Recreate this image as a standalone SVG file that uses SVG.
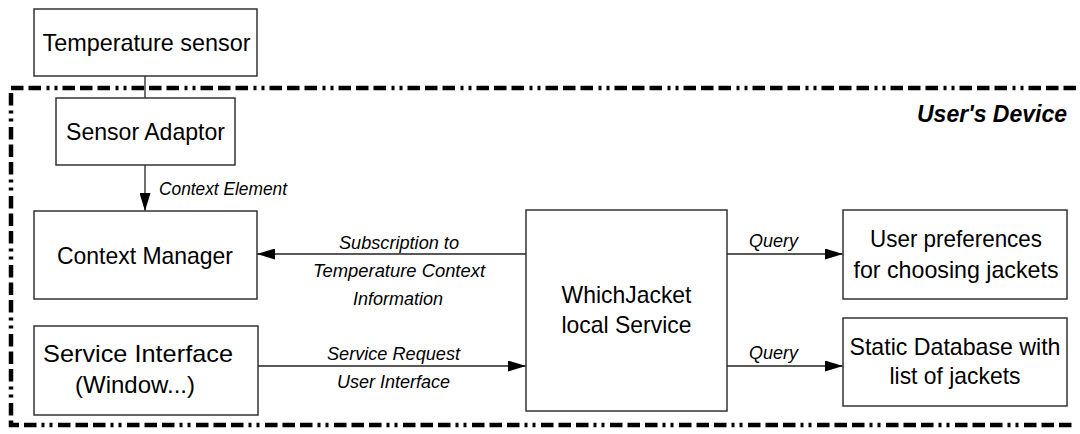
<svg xmlns="http://www.w3.org/2000/svg" width="1080" height="434" viewBox="0 0 1080 434">
  <defs>
    <marker id="arrow" markerUnits="userSpaceOnUse" markerWidth="18" markerHeight="11" refX="18" refY="5.5" orient="auto">
      <path d="M0,0 L18,5.5 L0,11 Z" fill="#000"/>
    </marker>
    <style>
      .box { fill: #fff; stroke: #333; stroke-width: 1.5; }
      .node { font-family: "Liberation Sans", Arial, Helvetica, sans-serif; font-size: 24px; fill: #000; text-anchor: middle; }
      .lbl { font-family: "Liberation Sans", Arial, Helvetica, sans-serif; font-size: 18px; font-style: italic; fill: #000; }
      .mid { text-anchor: middle; }
      .link { fill: none; stroke: #222; stroke-width: 1.3; }
      .boundary { fill: none; stroke: #000; stroke-width: 4.5; stroke-dasharray: 12.5 5 12.5 5 12.5 5 3 5 3 5.5; }
    </style>
  </defs>

  <rect width="1080" height="434" fill="#fff"/>

  <!-- device boundary (open on the right) -->
  <g id="users-device">
    <path class="boundary" d="M1076,88 H11 V425 H1076"/>
    <text x="1067" y="122" font-family="Liberation Sans, Arial, sans-serif" font-size="24" font-weight="bold" font-style="italic" text-anchor="end" textLength="150" lengthAdjust="spacingAndGlyphs">User's Device</text>
  </g>

  <!-- connectors -->
  <g id="connectors">
    <line class="link" x1="145" y1="76" x2="145" y2="98"/>
    <line class="link" x1="145" y1="165" x2="145" y2="211" marker-end="url(#arrow)"/>
    <line class="link" x1="526" y1="254" x2="257" y2="254" marker-end="url(#arrow)"/>
    <line class="link" x1="257" y1="366" x2="526" y2="366" marker-end="url(#arrow)"/>
    <line class="link" x1="727" y1="254" x2="843" y2="254" marker-end="url(#arrow)"/>
    <line class="link" x1="727" y1="366" x2="843" y2="366" marker-end="url(#arrow)"/>

    <text class="lbl" x="159" y="195" textLength="128" lengthAdjust="spacingAndGlyphs">Context Element</text>
    <text class="lbl mid" x="399" y="249" textLength="120" lengthAdjust="spacingAndGlyphs">Subscription to</text>
    <text class="lbl mid" x="399" y="277" textLength="172" lengthAdjust="spacingAndGlyphs">Temperature Context</text>
    <text class="lbl mid" x="398" y="305" textLength="90" lengthAdjust="spacingAndGlyphs">Information</text>
    <text class="lbl mid" x="393.5" y="360" textLength="133" lengthAdjust="spacingAndGlyphs">Service Request</text>
    <text class="lbl mid" x="393.5" y="388" textLength="113" lengthAdjust="spacingAndGlyphs">User Interface</text>
    <text class="lbl mid" x="773.5" y="247" textLength="49" lengthAdjust="spacingAndGlyphs">Query</text>
    <text class="lbl mid" x="773.5" y="359" textLength="49" lengthAdjust="spacingAndGlyphs">Query</text>
  </g>

  <g id="temperature-sensor">
    <rect class="box" x="34" y="9" width="223" height="67"/>
    <text class="node" x="146.5" y="51" textLength="208" lengthAdjust="spacingAndGlyphs">Temperature sensor</text>
  </g>

  <g id="sensor-adaptor">
    <rect class="box" x="56" y="98" width="179" height="67"/>
    <text class="node" x="145.5" y="140" textLength="159" lengthAdjust="spacingAndGlyphs">Sensor Adaptor</text>
  </g>

  <g id="context-manager">
    <rect class="box" x="34" y="211" width="223" height="88"/>
    <text class="node" x="145" y="264" textLength="176" lengthAdjust="spacingAndGlyphs">Context Manager</text>
  </g>

  <g id="service-interface">
    <rect class="box" x="34" y="326" width="224" height="89"/>
    <text class="node" x="138" y="362" textLength="190" lengthAdjust="spacingAndGlyphs">Service Interface</text>
    <text class="node" x="135" y="393" textLength="120" lengthAdjust="spacingAndGlyphs">(Window...)</text>
  </g>

  <g id="whichjacket-service">
    <rect class="box" x="526" y="210" width="201" height="201"/>
    <text class="node" x="626.5" y="303" textLength="130" lengthAdjust="spacingAndGlyphs">WhichJacket</text>
    <text class="node" x="626.5" y="333" textLength="130" lengthAdjust="spacingAndGlyphs">local Service</text>
  </g>

  <g id="user-preferences">
    <rect class="box" x="843" y="210" width="224" height="89"/>
    <text class="node" x="956" y="247" textLength="172" lengthAdjust="spacingAndGlyphs">User preferences</text>
    <text class="node" x="956" y="278" textLength="205" lengthAdjust="spacingAndGlyphs">for choosing jackets</text>
  </g>

  <g id="static-database">
    <rect class="box" x="843" y="318" width="224" height="88"/>
    <text class="node" x="955" y="355" textLength="211" lengthAdjust="spacingAndGlyphs">Static Database with</text>
    <text class="node" x="955" y="384" textLength="131" lengthAdjust="spacingAndGlyphs">list of jackets</text>
  </g>
</svg>
